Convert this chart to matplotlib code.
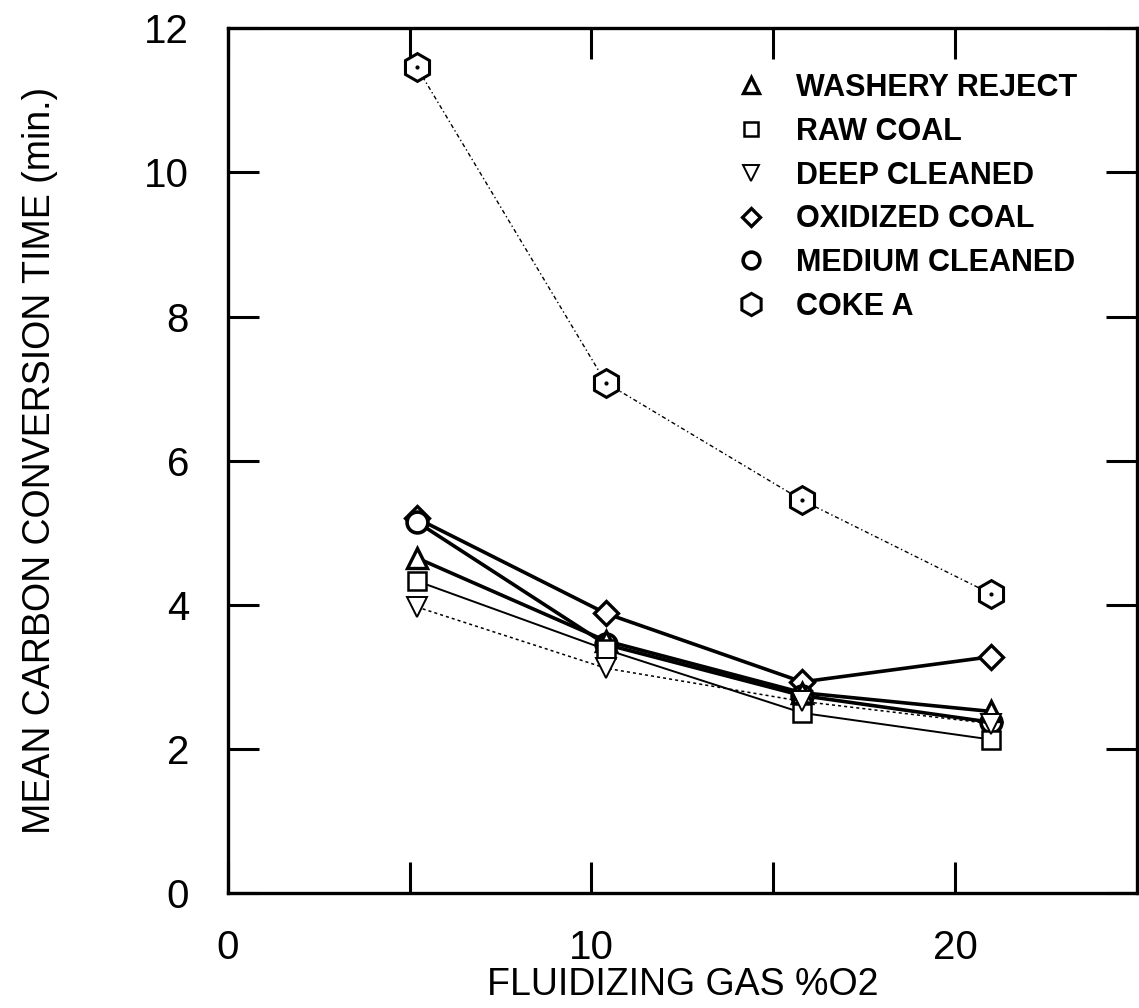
import matplotlib
matplotlib.use('Agg')
import matplotlib.pyplot as plt

# --- Data ---

o2 = [5.2, 10.4, 15.8, 21.0]

washery_reject = [4.65, 3.5, 2.78, 2.52]
raw_coal = [4.33, 3.38, 2.5, 2.13]
deep_cleaned = [3.97, 3.12, 2.66, 2.35]
oxidized_coal = [5.2, 3.88, 2.93, 3.28]
medium_cleaned = [5.15, 3.45, 2.74, 2.37]
coke_a = [11.46, 7.08, 5.45, 4.15]

xticks = [0, 5, 10, 15, 20]
xticklabels = ['0', '', '10', '', '20']
yticks = [0, 2, 4, 6, 8, 10, 12]

plt.rcParams['font.family'] = ['Liberation Sans', 'DejaVu Sans']

fig = plt.figure(figsize=(11.39, 10.08), dpi=100)
ax = fig.add_axes([0.2, 0.114, 0.798, 0.858])

# --- Series ---

mk = dict(markerfacecolor='white', markeredgecolor='black', color='black')

ax.plot(o2, coke_a, ls=(0, (3, 2, 1, 2)), lw=1.0, marker='h', ms=20, mew=2.2,
        label='COKE A', zorder=3, **mk)
ax.plot(o2, coke_a, ls='none', marker='.', ms=4, color='black', zorder=4)

ax.plot(o2, oxidized_coal, ls='-', lw=2.6, marker='D', ms=12, mew=2.4,
        label='OXIDIZED COAL', zorder=3, **mk)
ax.plot(o2, medium_cleaned, ls='-', lw=2.6, marker='o', ms=15, mew=2.6,
        label='MEDIUM CLEANED', zorder=3, **mk)
ax.plot(o2, washery_reject, ls='-', lw=2.6, marker='^', ms=15, mew=2.4,
        label='WASHERY REJECT', zorder=3, **mk)
ax.plot(o2, raw_coal, ls='-', lw=1.4, marker='s', ms=13, mew=1.8,
        label='RAW COAL', zorder=3, **mk)
ax.plot(o2, deep_cleaned, ls=(0, (2, 2)), lw=1.1, marker='v', ms=14, mew=1.4,
        label='DEEP CLEANED', zorder=3, **mk)

# --- Axes ---

ax.set_xlim(0, 25)
ax.set_ylim(0, 12)
ax.set_xticks(xticks)
ax.set_xticklabels(xticklabels)
ax.set_yticks(yticks)
ax.tick_params(axis='both', direction='in', top=True, right=True,
               length=22, width=2.2, labelsize=29)
ax.tick_params(axis='x', pad=26)
ax.tick_params(axis='y', pad=28)
for s in ax.spines.values():
    s.set_linewidth(2.4)

ax.set_xlabel('FLUIDIZING GAS %O2', fontsize=27, labelpad=0)
ax.set_ylabel('MEAN CARBON CONVERSION TIME (min.)', fontsize=27, labelpad=62)

handles, labels = ax.get_legend_handles_labels()
order = ['WASHERY REJECT', 'RAW COAL', 'DEEP CLEANED', 'OXIDIZED COAL',
         'MEDIUM CLEANED', 'COKE A']
hmap = dict(zip(labels, handles))
ax.legend([hmap[k] for k in order], order, loc='upper left',
          bbox_to_anchor=(0.545, 0.98), frameon=False, handlelength=0,
          handletextpad=1.5, labelspacing=0.45, markerscale=0.8,
          prop={'size': 22, 'weight': 'bold'})

fig.savefig('out.png', dpi=100)
